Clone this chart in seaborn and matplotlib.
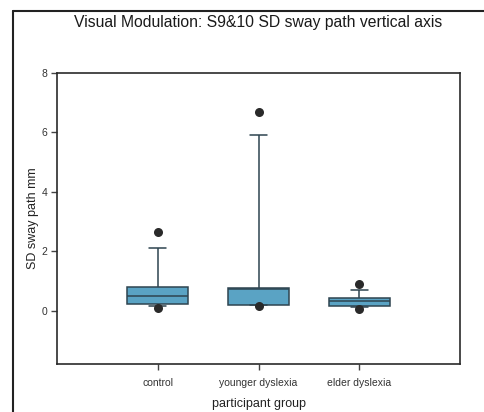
import matplotlib
matplotlib.use("Agg")
import matplotlib.pyplot as plt
from matplotlib.lines import Line2D
import pandas as pd
import seaborn as sns

# Group summary values (mm)
groups = ["control", "younger dyslexia", "elder dyslexia"]
whisker_low = [0.15, 0.19, 0.12]
q1 = [0.22, 0.19, 0.17]
median = [0.50, 0.72, 0.31]
q3 = [0.78, 0.76, 0.43]
whisker_high = [2.10, 5.90, 0.70]
pct_5 = [0.08, 0.14, 0.06]
pct_95 = [2.65, 6.70, 0.89]

y_ticks = [0, 2, 4, 6, 8]

# Five-number table per group: quartiles land exactly on the listed values
rows = []
for g, lo, a, m, b, hi in zip(groups, whisker_low, q1, median, q3, whisker_high):
    for v in (lo, a, m, b, hi):
        rows.append({"group": g, "value": v})
box_df = pd.DataFrame(rows)

dots_df = pd.DataFrame({
    "group": groups * 2,
    "value": pct_5 + pct_95,
})

sns.set_theme(style="white")
plt.rcParams["font.family"] = ["Liberation Sans", "DejaVu Sans"]

fig = plt.figure(figsize=(4.85, 4.12), dpi=100)
ax = fig.add_axes([57 / 485, 1 - 364 / 412, (460 - 57) / 485, (364 - 73) / 412])

edge = "#2e4450"
sns.boxplot(
    data=box_df, x="group", y="value", order=groups,
    whis=(0, 100), width=0.61, color="#5aa3c4", saturation=1,
    linecolor=edge, linewidth=1.1, showfliers=False,
    capwidths=0.17, ax=ax,
)
sns.stripplot(
    data=dots_df, x="group", y="value", order=groups,
    jitter=False, color="#2a2a2a", size=6.5, ax=ax, zorder=5,
)

ax.set_xlim(-1, 3)
ax.set_ylim(-1.8, 8)
ax.set_yticks(y_ticks)
ax.set_yticklabels([str(t) for t in y_ticks])

for s in ax.spines.values():
    s.set_visible(True)
    s.set_color("#2a2a2a")
    s.set_linewidth(1.2)

ax.tick_params(axis="both", which="major", direction="out", length=4,
               width=1, color="#444444", labelsize=7.5, labelcolor="#333333",
               left=True, bottom=True, pad=3)
ax.tick_params(axis="x", labelsize=7.5, pad=6)

ax.set_xlabel("participant group", fontsize=9, color="#222222", labelpad=7)
ax.set_ylabel("SD sway path mm", fontsize=9, color="#222222", labelpad=2)

fig.text((57 + 460) / 2 / 485, 1 - 22 / 412,
         "Visual Modulation: S9&10 SD sway path vertical axis",
         ha="center", va="center", fontsize=11.3, color="#1a1a1a")

# Outer frame lines (left and top)
fig.add_artist(Line2D([13 / 485, 13 / 485], [0, 1 - 11 / 412],
                      transform=fig.transFigure, color="#222222", lw=1.5))
fig.add_artist(Line2D([13 / 485, 1], [1 - 11 / 412, 1 - 11 / 412],
                      transform=fig.transFigure, color="#222222", lw=1.5))

fig.savefig("out.png", dpi=100)
